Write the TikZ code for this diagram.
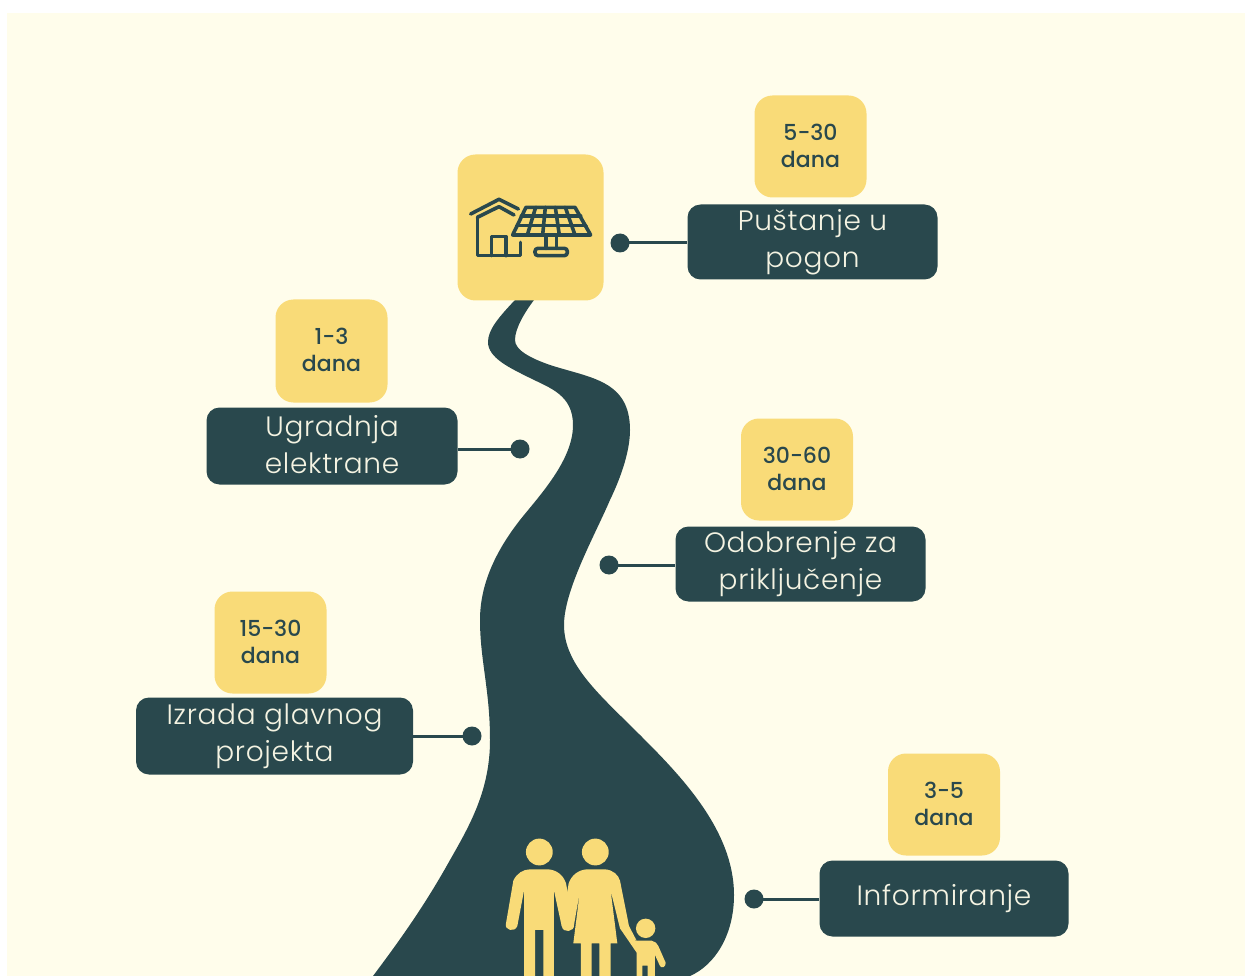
\documentclass[tikz,border=0pt]{standalone}
\usepackage{fontspec}
\setmainfont{Poppins}
\newfontfamily\labelfont[LetterSpace=2.5]{Poppins Light}
\newfontfamily\smallfont{Poppins Medium}
\definecolor{cream}{HTML}{FFFDEB}
\definecolor{teal}{HTML}{29484D}
\definecolor{sun}{HTML}{F9DB78}
\definecolor{lighttext}{HTML}{F4F3E2}
\newcommand\rsline[2]{\raisebox{#1}{#2}}
\tikzset{
  darkbox/.style={draw=none,fill=teal,rounded corners=13pt,inner sep=0pt,text=lighttext,align=center,
     font=\labelfont\fontsize{28}{36.5}\selectfont},
  sunbox/.style={draw=none,fill=sun,rounded corners=18pt,inner sep=0pt,text=teal,align=center,
     font=\smallfont\fontsize{22}{28}\selectfont},
  dotnode/.style={circle,fill=teal,inner sep=0pt,minimum size=19pt},
  link/.style={draw=teal,line width=3pt},
  iconline/.style={draw=teal,line width=3.6pt,line join=round,line cap=round},
}
\begin{document}
\begin{tikzpicture}[x=1pt,y=-1pt]
\useasboundingbox (0,0) rectangle (1245,976);
\fill[white] (0,0) rectangle (1245,976);
\fill[cream] (7,13) rectangle (1245,976);
% road
\fill[teal] (515,300) .. controls (498,318) and (488,330) .. (488,342)
  .. controls (488,358) and (510,368) .. (530,378)
  .. controls (550,388) and (573,395) .. (573,425)
  .. controls (573,460) and (540,495) .. (520,520)
  .. controls (495,552) and (480,585) .. (480,620)
  .. controls (480,660) and (490,690) .. (490,740)
  .. controls (490,790) and (470,825) .. (450,860)
  .. controls (425,905) and (400,940) .. (373,976)
  -- (690,976)
  .. controls (715,965) and (734,935) .. (734,895)
  .. controls (734,830) and (680,775) .. (640,735)
  .. controls (600,695) and (564,665) .. (564,625)
  .. controls (564,590) and (595,535) .. (610,500)
  .. controls (622,475) and (630,450) .. (630,430)
  .. controls (630,380) and (590,378) .. (550,365)
  .. controls (530,358) and (515,350) .. (515,340)
  .. controls (515,328) and (525,312) .. (534,300) -- cycle;
% boxes
\node[sunbox,minimum width=146pt,minimum height=146pt] (icon) at (530.5,227.5) {};
\node[sunbox,minimum width=112pt,minimum height=102pt] (s1) at (810.5,146.5) {\rsline{1.5pt}{5-30}\\[-1pt]\rsline{1.5pt}{dana}};
\node[sunbox,minimum width=112pt,minimum height=103pt] (s2) at (331.5,351) {\rsline{1.5pt}{1-3}\\[-1pt]\rsline{1.5pt}{dana}};
\node[sunbox,minimum width=112pt,minimum height=102pt] (s3) at (797,469.5) {\rsline{1.5pt}{30-60}\\[-1pt]\rsline{1.5pt}{dana}};
\node[sunbox,minimum width=112pt,minimum height=102pt] (s4) at (270.5,642.5) {\rsline{1.5pt}{15-30}\\[-1pt]\rsline{1.5pt}{dana}};
\node[sunbox,minimum width=112pt,minimum height=102pt] (s5) at (944,804.5) {\rsline{1.5pt}{3-5}\\[-1pt]\rsline{1.5pt}{dana}};
\node[darkbox,minimum width=250pt,minimum height=75pt] (b1) at (812.5,242) {Puštanje u\\pogon};
\node[darkbox,minimum width=251pt,minimum height=77pt] (b2) at (332,446) {\rsline{3pt}{Ugradnja}\\\rsline{3pt}{elektrane}};
\node[darkbox,minimum width=250pt,minimum height=75pt] (b3) at (800.5,564) {Odobrenje za\\priključenje};
\node[darkbox,minimum width=277pt,minimum height=77pt] (b4) at (274.5,736) {Izrada glavnog\\projekta};
\node[darkbox,minimum width=249pt,minimum height=76pt] (b5) at (944,898.5) {Informiranje};
% dots and connectors
\node[dotnode] (d1) at (620,243) {};
\node[dotnode] (d2) at (520,449) {};
\node[dotnode] (d3) at (609,565) {};
\node[dotnode] (d4) at (472,736) {};
\node[dotnode] (d5) at (754,899) {};
\draw[link] (d1.center) -- (d1.center -| b1.west);
\draw[link] (d2.center) -- (d2.center -| b2.east);
\draw[link] (d3.center) -- (d3.center -| b3.west);
\draw[link] (d4.center) -- (d4.center -| b4.east);
\draw[link] (d5.center) -- (d5.center -| b5.west);
% house and solar panel icon
\begin{scope}[shift={(440,140)},x=0.3333pt,y=-0.3333pt]
 \draw[iconline] (92,222) -- (177,178) -- (235,207);
 \draw[iconline] (112,232) -- (177,200) -- (222,225);
 \draw[iconline] (112,232) -- (112,347) -- (242,347) -- (242,307);
 \draw[iconline] (155,347) -- (155,290) -- (198,290) -- (198,347);
 \draw[iconline] (258,202) -- (405,202) -- (452,285) -- (218,285) -- cycle;
 \draw[iconline] (244,228) -- (422,228) (231,257) -- (438,257);
 \draw[iconline] (287,202) -- (262,285) (316,202) -- (308,285) (346,202) -- (358,285) (376,202) -- (405,285);
 \draw[iconline] (318,285) -- (318,325) (350,285) -- (350,325);
 \draw[iconline,rounded corners=3pt] (285,347) -- (285,325) -- (382,325) -- (382,347) -- cycle;
\end{scope}
% family
\begin{scope}[shift={(480,820)},x=0.3333pt,y=-0.3333pt]
 \fill[sun] (178,96) circle (13.4pt);
 \fill[sun] (346,96) circle (13.4pt);
 \fill[sun] (497,325) circle (9.7pt);
 % man
 \fill[sun] (100,182) .. controls (110,160) and (130,148) .. (150,148) -- (205,148)
   .. controls (230,150) and (250,165) .. (258,190) -- (282,315)
   .. controls (284,335) and (250,342) .. (245,318) -- (222,212) -- (222,468) -- (190,468) -- (190,330) -- (165,330) -- (165,468)
   -- (132,468) -- (132,212) -- (112,318) .. controls (105,338) and (72,332) .. (78,310) -- cycle;
 % woman
 \fill[sun] (266,190) .. controls (275,165) and (295,150) .. (320,148) -- (375,148)
   .. controls (400,150) and (415,165) .. (420,182) -- (447,318) -- (470,362) -- (420,325) -- (392,212) -- (412,370) -- (392,370) -- (392,468)
   -- (358,468) -- (358,370) -- (335,370) -- (335,468) -- (303,468) -- (303,370) -- (280,370) -- (300,212) -- (282,315) -- (245,318) -- cycle;
 % child
 \fill[sun] (420,325) -- (445,320) -- (467,362) -- (515,362) .. controls (525,364) and (532,370) .. (535,378)
   -- (557,428) .. controls (558,442) and (545,446) .. (540,438) -- (525,405) -- (525,468) -- (503,468) -- (503,437) -- (487,437) -- (487,468) -- (470,468) -- (470,398) -- cycle;
\end{scope}
\end{tikzpicture}
\end{document}
